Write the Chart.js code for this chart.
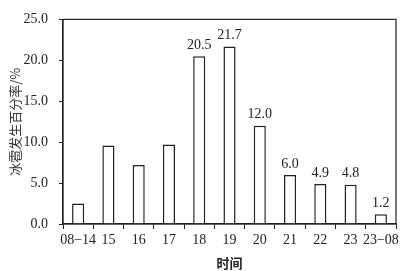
<!DOCTYPE html>
<html>
<head>
<meta charset="utf-8">
<script src="https://cdn.jsdelivr.net/npm/chart.js@4/dist/chart.umd.min.js"></script>
<style>
  html, body { margin: 0; padding: 0; background: #fff; }
  #wrap { width: 406px; height: 271px; }
</style>
</head>
<body>
<div id="wrap"><canvas id="hail-chart"></canvas></div>
<script>
// --- Data ---
const hourLabels = ['08\u221214', '15', '16', '17', '18', '19', '20', '21', '22', '23', '23\u221208'];
const hailPercent = [2.5, 9.6, 7.2, 9.7, 20.5, 21.7, 12.0, 6.0, 4.9, 4.8, 1.2];
const barValueLabels = ['', '', '', '', '20.5', '21.7', '12.0', '6.0', '4.9', '4.8', '1.2'];
const yTicks = [0, 5, 10, 15, 20, 25];

const serif = '"Liberation Serif", "Times New Roman", serif';

// frame around the plot area + value labels above bars
const frameAndLabels = {
    id: 'frameAndLabels',
    afterDatasetsDraw(chart) {
        const { ctx, chartArea } = chart;
        ctx.save();
        ctx.strokeStyle = '#222';
        ctx.lineWidth = 1.2;
        ctx.strokeRect(chartArea.left, chartArea.top, chartArea.right - chartArea.left, chartArea.bottom - chartArea.top);

        const meta = chart.getDatasetMeta(0);
        ctx.fillStyle = '#222';
        ctx.font = '14px ' + serif;
        ctx.textAlign = 'center';
        ctx.textBaseline = 'bottom';
        meta.data.forEach((bar, i) => {
            if (barValueLabels[i]) ctx.fillText(barValueLabels[i], bar.x, bar.y - 4);
        });
        ctx.restore();
    }
};

new Chart(document.getElementById('hail-chart'), {
    type: 'bar',
    data: {
        labels: hourLabels,
        datasets: [{
            data: hailPercent,
            backgroundColor: '#fff',
            borderColor: '#222',
            borderWidth: 1.5,
            barPercentage: 0.4,
            categoryPercentage: 1.0
        }]
    },
    options: {
        responsive: true,
        maintainAspectRatio: false,
        animation: false,
        layout: { padding: { top: 7, right: 10, left: 0, bottom: 0 } },
        plugins: {
            legend: { display: false },
            tooltip: { enabled: false }
        },
        scales: {
            x: {
                grid: { offset: true, drawOnChartArea: false, tickLength: 5, color: '#222' },
                border: { color: '#222', width: 1.2 },
                ticks: { color: '#222', font: { family: serif, size: 14 }, padding: 3, maxRotation: 0, autoSkip: false },
                title: { display: true, text: '时间', color: '#222', font: { family: '"Noto Sans CJK SC"', size: 13, weight: 'bold' }, padding: { top: 1, bottom: 0 } },
                afterFit: (scale) => { scale.height = 47; }
            },
            y: {
                min: 0,
                max: 25,
                afterBuildTicks: (scale) => { scale.ticks = yTicks.map(v => ({ value: v })); },
                grid: { drawOnChartArea: false, tickLength: 4, color: '#222' },
                border: { color: '#222', width: 1.2 },
                ticks: { color: '#222', font: { family: serif, size: 14 }, padding: 11, callback: (v) => v.toFixed(1) },
                title: { display: true, text: '冰雹发生百分率/%', color: '#333', font: { family: '"Noto Sans CJK SC"', size: 13 }, padding: { top: 7, bottom: 2 } },
                afterFit: (scale) => { scale.width = 63; }
            }
        }
    },
    plugins: [frameAndLabels]
});
</script>
</body>
</html>
